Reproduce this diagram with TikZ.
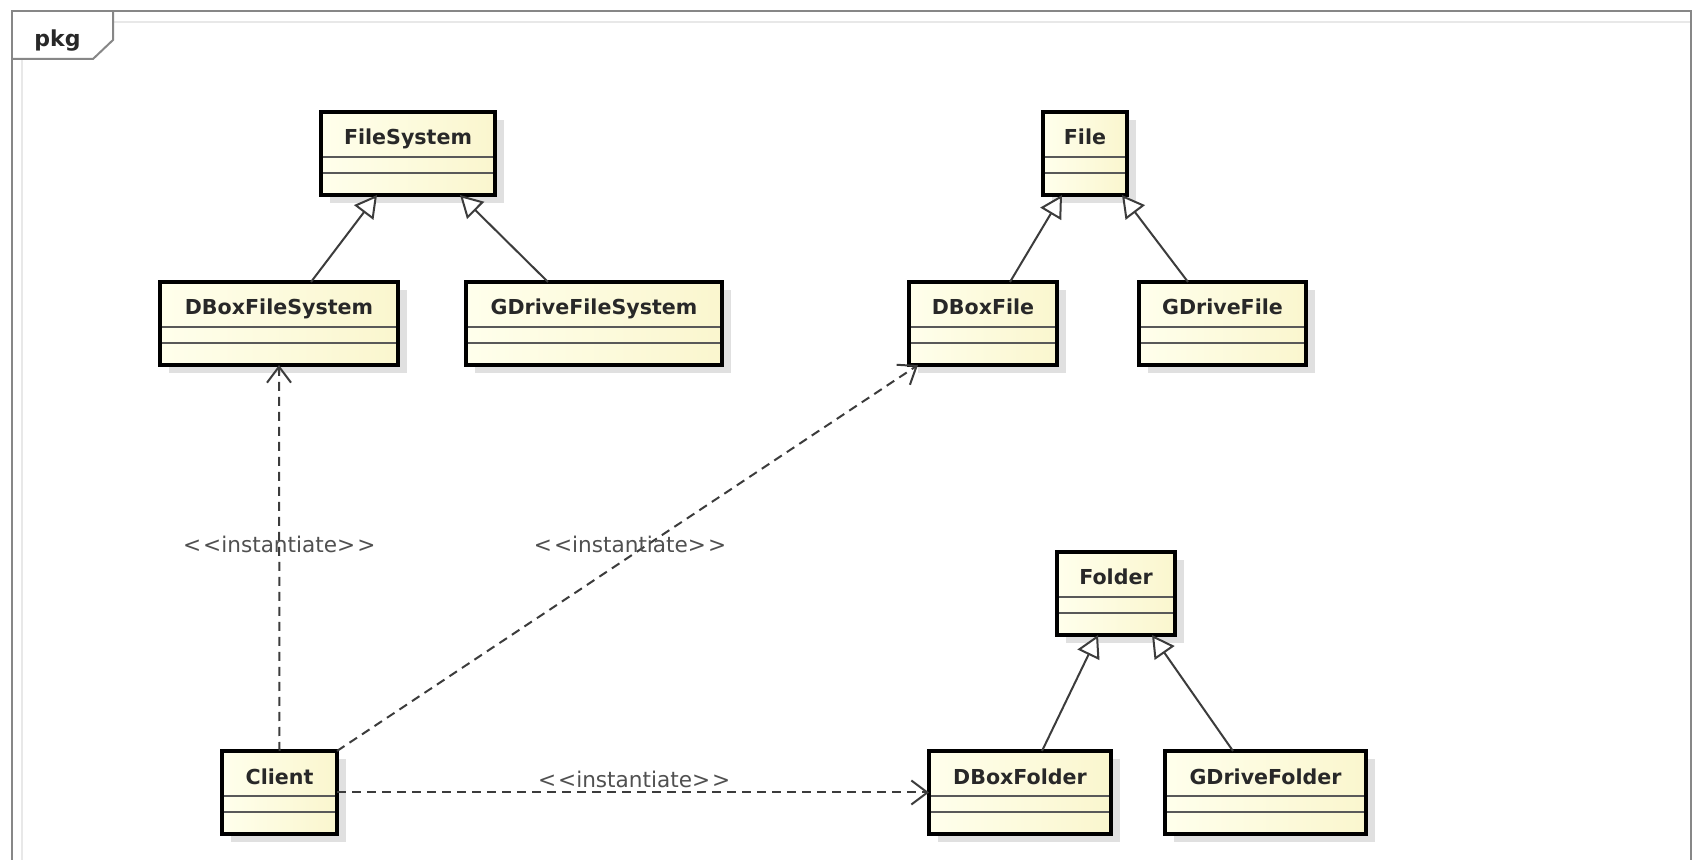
\documentclass[tikz,border=0pt]{standalone}
\usepackage{fontspec}
\setmainfont{DejaVu Sans}
\usetikzlibrary{arrows.meta,shadows}
\pgfdeclarelayer{bg}
\pgfsetlayers{bg,main}
\definecolor{boxL}{RGB}{255,255,236}
\definecolor{boxR}{RGB}{250,246,206}
\definecolor{lineC}{RGB}{60,60,60}
\definecolor{frameC}{RGB}{135,135,135}
\definecolor{txtC}{RGB}{40,40,40}
\definecolor{lblC}{RGB}{80,80,80}
\definecolor{shadC}{RGB}{224,224,224}
\tikzset{
  cls/.style={rectangle, draw=black, line width=1.6pt, left color=boxL, right color=boxR,
    inner sep=0pt, outer sep=0pt, minimum height=41.5pt,
    drop shadow={shadow xshift=4.5pt, shadow yshift=-4pt, fill=shadC, opacity=1}},
  clsname/.style={anchor=base, yshift=-16.5pt, font=\fontsize{10.3}{12}\selectfont\bfseries,
    text=txtC, inner sep=0pt},
  cmp/.style={draw=black!65, line width=0.8pt},
  gen/.style={draw=lineC, line width=1pt, -{Triangle[open, length=11pt, width=12pt, fill=white]}},
  dep/.style={draw=lineC, line width=1pt, dash pattern=on 4.5pt off 3pt,
    -{Straight Barb[length=8pt, width=12pt]}},
  lbl/.style={font=\fontsize{10.8}{13}\selectfont, text=lblC, inner sep=0pt, anchor=base},
  lshad/.style={draw=black!11, line width=1.5pt},
  frame/.style={draw=frameC, line width=1pt},
  pkgtext/.style={font=\fontsize{11}{13}\selectfont\bfseries, text=txtC, anchor=base west, inner sep=0pt},
}
\newcommand{\umlbox}[6]{%
  \node[cls, minimum width={(#5-#3)*0.5pt}, label={[clsname]north:#2}] (#1) at ({(#3+#5)/2},{(#4+#6)/2}) {};
  \draw[cmp] ([shift={(0.8pt,-22.5pt)}]#1.north west) -- ([shift={(-0.8pt,-22.5pt)}]#1.north east);
  \draw[cmp] ([shift={(0.8pt,-30.5pt)}]#1.north west) -- ([shift={(-0.8pt,-30.5pt)}]#1.north east);
}
% shadow of a connector: start anchor, x offset, end anchor, x offset
\newcommand{\shadline}[4]{%
  \draw[lshad] ([shift={(4.5pt+#2,-4pt)}]#1) -- ([shift={(4.5pt+#4,-4pt)}]#3);
}
\newcommand{\inst}{<\kern1pt<instantiate>\kern1pt>}
\begin{document}
\begin{tikzpicture}[x=0.5pt, y=-0.5pt]
  \clip (0,0) rectangle (1693,860);
  \fill[white] (0,0) rectangle (1693,860);
  % frame
  \draw[black!9, line width=1pt] (22,870) -- (22,59);
  \draw[black!9, line width=1pt] (113,22) -- (1691,22);
  \draw[frame] (12,870) -- (12,11) -- (1691,11) -- (1691,870);
  \draw[frame] (12,59) -- (93,59) -- (113,40) -- (113,11);
  \node[pkgtext] (pkg) at (34,47) {pkg};
  % classes
  \umlbox{FS}{FileSystem}{321}{112}{495}{195}
  \umlbox{DBFS}{DBoxFileSystem}{160}{282}{398}{365}
  \umlbox{GDFS}{GDriveFileSystem}{466}{282}{722}{365}
  \umlbox{F}{File}{1043}{112}{1127}{195}
  \umlbox{DBF}{DBoxFile}{909}{282}{1057}{365}
  \umlbox{GDF}{GDriveFile}{1139}{282}{1306}{365}
  \umlbox{FO}{Folder}{1057}{552}{1175}{635}
  \umlbox{DBFO}{DBoxFolder}{929}{751}{1111}{834}
  \umlbox{GDFO}{GDriveFolder}{1165}{751}{1366}{834}
  \umlbox{CL}{Client}{222}{751}{337}{834}
  % connector shadows
  \begin{pgfonlayer}{bg}
    \shadline{DBFS.north}{16pt}{FS.south}{-15.5pt}
    \shadline{GDFS.north}{-23pt}{FS.south}{26pt}
    \shadline{DBF.north}{13.5pt}{F.south}{-11.5pt}
    \shadline{GDF.north}{-17.25pt}{F.south}{18.5pt}
    \shadline{DBFO.north}{11pt}{FO.south}{-9pt}
    \shadline{GDFO.north}{-16.25pt}{FO.south}{18pt}
    \shadline{CL.north}{0pt}{DBFS.south}{0pt}
    \shadline{CL.north east}{0pt}{DBF.south west}{4.5pt}
    \shadline{CL.east}{0pt}{DBFO.west}{0pt}
  \end{pgfonlayer}
  % generalizations
  \draw[gen] ([xshift=16pt]DBFS.north) -- ([xshift=-15.5pt]FS.south);
  \draw[gen] ([xshift=-23pt]GDFS.north) -- ([xshift=26pt]FS.south);
  \draw[gen] ([xshift=13.5pt]DBF.north) -- ([xshift=-11.5pt]F.south);
  \draw[gen] ([xshift=-17.25pt]GDF.north) -- ([xshift=18.5pt]F.south);
  \draw[gen] ([xshift=11pt]DBFO.north) -- ([xshift=-9pt]FO.south);
  \draw[gen] ([xshift=-16.25pt]GDFO.north) -- ([xshift=18pt]FO.south);
  % dependencies
  \draw[dep] (CL.north) -- node[lbl, pos=0.513] (l1) {\inst} (DBFS.south);
  \draw[dep] (CL.north east) -- node[lbl, pos=0.513, xshift=-2.5pt] (l2) {\inst} ([xshift=4.5pt]DBF.south west);
  \draw[dep] (CL.east) -- node[lbl, pos=0.502, yshift=2.5pt] (l3) {\inst} (DBFO.west);
\end{tikzpicture}
\end{document}
